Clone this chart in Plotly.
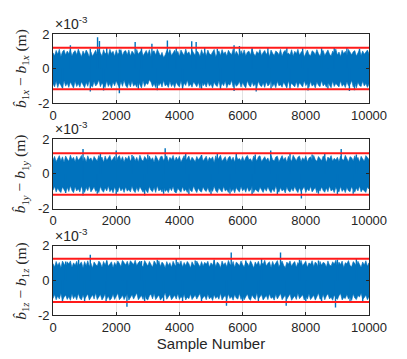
import plotly.graph_objects as go
from plotly.subplots import make_subplots

# envelope of the estimation error, one value every 50 samples (units of 1e-5 m)
sample_bins = list(range(0, 10001, 50))

x_hi = [92, 74, 105, 83, 112, 70, 98, 108, 78, 101, 86, 110, 72, 95, 104, 80, 113, 88, 69, 102,
        81, 107, 91, 66, 97, 71, 85, 106, 79, 111, 90, 73, 109, 84, 97, 76, 112, 87, 100, 71,
        106, 82, 93, 110, 75, 99, 104, 80, 108, 72, 101, 89, 77, 111, 83, 96, 107, 74, 92, 105,
        81, 109, 70, 98, 103, 78, 112, 86, 73, 94, 64, 79, 104, 87, 110, 75, 95, 106, 82, 100,
        71, 108, 90, 77, 113, 84, 97, 72, 105, 88, 76, 102, 93, 70, 109, 81, 99, 74, 107, 85,
        79, 96, 111, 68, 88, 103, 75, 110, 84, 97, 73, 106, 91, 80, 112, 77, 100, 86, 69, 104,
        82, 108, 74, 95, 101, 79, 113, 87, 72, 99, 85, 110, 76, 93, 105, 81, 98, 70, 107, 89,
        75, 102, 94, 80, 111, 71, 97, 106, 83, 90, 78, 109, 73, 100, 86, 112, 77, 95, 104, 68,
        91, 107, 82, 74, 103, 96, 79, 110, 87, 71, 99, 105, 76, 92, 108, 84, 72, 101, 89, 113,
        78, 96, 70, 106, 85, 100, 74, 111, 93, 80, 97, 104, 72, 88, 109, 76, 102, 83, 95, 107,
        86]
x_lo = [-88, -106, -74, -110, -82, -97, -112, -71, -102, -85, -109, -78, -99, -113, -73, -104, -87, -108, -76, -95,
        -111, -80, -103, -69, -98, -107, -75, -101, -90, -66, -105, -83, -96, -110, -72, -104, -86, -112, -79, -100,
        -70, -93, -109, -77, -103, -68, -98, -111, -81, -106, -74, -102, -89, -108, -76, -97, -112, -71, -104, -84,
        -92, -65, -78, -105, -87, -110, -73, -99, -82, -107, -69, -101, -91, -109, -75, -104, -86, -111, -79, -96,
        -106, -72, -110, -84, -98, -67, -103, -89, -108, -77, -94, -105, -80, -112, -73, -100, -87, -107, -76, -102,
        -90, -113, -79, -97, -104, -71, -109, -85, -100, -74, -111, -88, -96, -68, -106, -82, -103, -93, -75, -108,
        -81, -99, -112, -70, -95, -107, -78, -102, -86, -110, -73, -97, -105, -83, -109, -76, -101, -91, -69, -104,
        -87, -111, -74, -100, -93, -108, -79, -96, -113, -72, -103, -85, -98, -106, -77, -110, -82, -94, -107, -71,
        -99, -84, -109, -75, -102, -90, -112, -78, -97, -105, -70, -101, -88, -108, -80, -95, -111, -73, -104, -86,
        -96, -107, -72, -103, -89, -110, -77, -100, -93, -69, -106, -84, -112, -79, -98, -104, -74, -101, -87, -109,
        -90]

y_hi = [80, 102, 71, 94, 106, 76, 99, 68, 104, 87, 73, 108, 83, 97, 70, 103, 79, 91, 107, 74,
        96, 69, 105, 82, 93, 72, 101, 86, 77, 106, 84, 98, 67, 104, 79, 92, 107, 75, 89, 102,
        71, 95, 106, 78, 100, 69, 97, 83, 105, 74, 90, 103, 77, 96, 70, 108, 85, 73, 101, 88,
        76, 104, 81, 94, 68, 106, 87, 72, 99, 103, 78, 92, 105, 71, 96, 84, 107, 74, 98, 80,
        102, 69, 93, 106, 77, 89, 104, 73, 97, 85, 70, 101, 82, 95, 107, 75, 88, 103, 72, 96,
        84, 99, 66, 105, 79, 91, 108, 74, 87, 100, 71, 94, 103, 78, 97, 69, 106, 83, 90, 76,
        101, 73, 95, 107, 82, 88, 70, 104, 92, 77, 99, 105, 72, 86, 100, 79, 93, 68, 107, 84,
        75, 98, 103, 71, 90, 106, 80, 96, 69, 102, 85, 74, 108, 88, 77, 97, 104, 72, 94, 81,
        105, 70, 92, 99, 78, 107, 83, 73, 101, 89, 76, 104, 95, 68, 98, 86, 106, 74, 91, 80,
        97, 72, 103, 85, 79, 108, 90, 71, 100, 94, 77, 105, 82, 96, 69, 102, 88, 74, 106, 93,
        84]
y_lo = [-94, -72, -105, -81, -98, -108, -75, -91, -106, -78, -102, -69, -96, -109, -74, -99, -86, -105, -71, -93,
        -107, -79, -97, -68, -104, -88, -76, -101, -92, -108, -73, -95, -106, -80, -99, -70, -103, -87, -109, -77,
        -94, -105, -72, -98, -83, -107, -75, -100, -90, -104, -71, -96, -108, -79, -102, -74, -93, -106, -85, -98,
        -109, -73, -95, -103, -78, -107, -69, -99, -88, -105, -76, -101, -92, -108, -80, -97, -72, -104, -110, -83,
        -95, -106, -74, -100, -89, -107, -77, -96, -103, -70, -93, -108, -81, -99, -105, -75, -94, -102, -78, -106,
        -87, -101, -71, -97, -108, -82, -94, -105, -73, -99, -90, -107, -76, -102, -86, -109, -79, -95, -104, -72,
        -98, -84, -106, -75, -101, -93, -69, -108, -88, -97, -104, -77, -92, -107, -81, -100, -74, -96, -109, -85,
        -103, -71, -94, -106, -79, -99, -88, -110, -76, -97, -105, -83, -100, -73, -95, -108, -80, -102, -90, -74,
        -107, -86, -98, -72, -104, -93, -78, -109, -84, -100, -75, -96, -106, -81, -103, -70, -99, -89, -108, -77,
        -94, -105, -73, -101, -87, -108, -79, -97, -103, -74, -92, -106, -82, -99, -70, -104, -88, -96, -107, -76,
        -87]

z_hi = [98, 78, 110, 86, 104, 73, 112, 91, 80, 108, 95, 113, 76, 102, 88, 111, 79, 97, 106, 74,
        109, 85, 114, 81, 100, 72, 107, 93, 83, 112, 101, 77, 110, 89, 115, 82, 96, 108, 75, 104,
        87, 113, 99, 80, 116, 103, 90, 111, 84, 114, 105, 92, 117, 86, 102, 112, 88, 79, 115, 97,
        83, 110, 94, 77, 113, 100, 85, 114, 81, 106, 95, 74, 109, 87, 103, 76, 111, 92, 80, 107,
        89, 113, 78, 104, 86, 110, 97, 73, 108, 91, 82, 112, 99, 79, 109, 84, 105, 93, 111, 77,
        102, 88, 115, 81, 107, 96, 74, 112, 90, 103, 79, 116, 94, 85, 110, 76, 106, 98, 83, 113,
        92, 78, 109, 101, 84, 114, 96, 72, 107, 89, 111, 80, 104, 93, 117, 83, 99, 108, 75, 110,
        86, 103, 115, 79, 97, 112, 88, 74, 106, 94, 113, 82, 100, 109, 77, 104, 91, 116, 85, 98,
        111, 76, 102, 93, 114, 81, 107, 96, 73, 110, 88, 105, 99, 78, 113, 90, 84, 108, 95, 117,
        80, 106, 92, 112, 75, 103, 97, 115, 86, 79, 109, 100, 83, 111, 94, 77, 107, 89, 114, 82,
        102]
z_lo = [-105, -82, -112, -90, -107, -76, -114, -97, -84, -110, -93, -115, -79, -106, -88, -112, -75, -103, -113, -85,
        -109, -92, -78, -114, -101, -83, -108, -73, -111, -96, -81, -113, -99, -77, -109, -90, -115, -104, -80, -110,
        -94, -74, -112, -102, -86, -111, -91, -79, -114, -100, -83, -108, -95, -72, -112, -103, -87, -110, -78, -106,
        -113, -89, -80, -107, -75, -111, -98, -84, -114, -102, -92, -71, -109, -96, -81, -112, -101, -86, -108, -77,
        -110, -93, -105, -82, -113, -97, -106, -79, -111, -99, -85, -108, -94, -76, -110, -102, -88, -112, -80, -107,
        -95, -116, -83, -104, -91, -109, -74, -113, -98, -86, -111, -79, -105, -93, -114, -81, -102, -108, -76, -110,
        -89, -112, -97, -78, -106, -115, -84, -100, -110, -73, -108, -94, -82, -113, -99, -87, -111, -77, -104, -96,
        -114, -80, -107, -92, -75, -112, -101, -85, -109, -96, -78, -115, -103, -88, -110, -74, -106, -98, -83, -113,
        -91, -108, -79, -111, -100, -86, -114, -95, -73, -109, -104, -82, -112, -90, -77, -107, -97, -115, -84, -101,
        -110, -88, -76, -113, -99, -105, -81, -108, -93, -116, -79, -102, -111, -87, -96, -74, -109, -100, -85, -112,
        -95]

# isolated peaks sticking out of the band (sample, value in units of 1e-3 m)
x_spike_at = [550, 1180, 1410, 1470, 1700, 2100, 2600, 2800, 3130, 3620, 3900, 4390, 4530,
              4800, 5200, 5730, 5900, 6300, 6800, 7400, 7900, 8500, 8900, 9300, 9700,
              300, 1180, 1600, 2100, 2700, 3300, 4100, 4700, 5300, 5730, 6430, 6900,
              7500, 8070, 8700, 9380, 9540]
x_spike_val = [1.35, 1.15, 1.81, 1.60, 1.20, 1.10, 1.54, 1.20, 1.43, 1.62, 1.20, 1.58, 1.54,
               1.20, 1.15, 1.35, 1.30, 1.20, 1.25, 1.20, 1.18, 1.20, 1.25, 1.20, 1.15,
               -1.15, -1.33, -1.27, -1.43, -1.20, -1.25, -1.20, -1.22, -1.20, -1.30, -1.33, -1.20,
               -1.18, -1.27, -1.20, -1.30, -1.25]
y_spike_at = [950, 1500, 2000, 2500, 3000, 3550, 4200, 4700, 5200, 5800, 6400, 6890, 7500,
              8200, 8600, 9120, 9600,
              400, 950, 1400, 2000, 2900, 3500, 4300, 5000, 5600, 6300, 7100, 7860,
              8400, 9000, 9500]
y_spike_val = [1.44, 1.15, 1.35, 1.10, 1.12, 1.48, 1.15, 1.10, 1.20, 1.15, 1.12, 1.35, 1.15,
               1.12, 1.20, 1.44, 1.12,
               -1.10, -1.25, -1.15, -1.20, -1.25, -1.15, -1.20, -1.20, -1.15, -1.18, -1.20, -1.42,
               -1.15, -1.20, -1.15]
z_spike_at = [400, 810, 1180, 1700, 2200, 2800, 3300, 3900, 4500, 5100, 5640, 6100, 6600,
              7200, 7800, 8400, 9000, 9600,
              300, 1000, 1680, 2340, 2900, 3500, 4100, 4700, 5490, 6000, 6500, 7380,
              8000, 8500, 8940, 9400, 9800]
z_spike_val = [1.10, 1.20, 1.49, 1.15, 1.10, 1.12, 1.20, 1.25, 1.15, 1.20, 1.62, 1.15, 1.25,
               1.62, 1.20, 1.15, 1.20, 1.25,
               -1.20, -1.25, -1.30, -1.52, -1.20, -1.25, -1.20, -1.25, -1.47, -1.20, -1.30, -1.47,
               -1.20, -1.25, -1.56, -1.20, -1.30]

bounds = [1.2, 1.2, 1.25]
axis_names = ["x", "y", "z"]
x_ticks = [0, 2000, 4000, 6000, 8000, 10000]
y_ticks = [-2, 0, 2]

panels = [(x_hi, x_lo, x_spike_at, x_spike_val),
          (y_hi, y_lo, y_spike_at, y_spike_val),
          (z_hi, z_lo, z_spike_at, z_spike_val)]

blue = "#0072BD"
red = "#FF1A1A"
ink = "#262626"

fig = make_subplots(rows=3, cols=1)

for i, (hi, lo, sp_at, sp_val) in enumerate(panels):
    row = i + 1
    edge = [v / 100 for v in hi + lo[::-1]]
    fig.add_trace(go.Scatter(x=sample_bins + sample_bins[::-1], y=edge,
                             fill="toself", fillcolor=blue, mode="lines",
                             line=dict(color=blue, width=0.6), hoverinfo="skip"),
                  row=row, col=1)
    sx, sy = [], []
    for s, v in zip(sp_at, sp_val):
        sx += [s, s, None]
        sy += [0, v, None]
    fig.add_trace(go.Scatter(x=sx, y=sy, mode="lines",
                             line=dict(color=blue, width=1.4)), row=row, col=1)
    b = bounds[i]
    fig.add_trace(go.Scatter(x=[0, 10000, None, 0, 10000], y=[b, b, None, -b, -b],
                             mode="lines", line=dict(color=red, width=2)),
                  row=row, col=1)

domains = [[0.754, 1.0], [0.379, 0.625], [0.0, 0.246]]
axis_style = dict(showline=True, linecolor=ink, linewidth=0.8, mirror="ticks",
                  ticks="inside", ticklen=3, tickcolor=ink,
                  showgrid=True, gridcolor="#E3E3E3", gridwidth=0.8, zeroline=False,
                  tickfont=dict(family="Liberation Sans", size=13, color=ink))

for i in range(3):
    sfx = "" if i == 0 else str(i + 1)
    fig.layout["xaxis" + sfx].update(range=[0, 10000], tickvals=x_ticks,
                                     ticktext=[str(t) for t in x_ticks], **axis_style)
    fig.layout["yaxis" + sfx].update(range=[-2, 2], domain=domains[i], tickvals=y_ticks,
                                     ticktext=[str(t) for t in y_ticks], **axis_style)
    fig.add_annotation(xref="x" + sfx + " domain", yref="y" + sfx + " domain",
                       x=0.0, y=1.0, xanchor="left", yanchor="bottom", showarrow=False,
                       text="×10<sup>-3</sup>",
                       font=dict(family="Liberation Sans", size=14, color=ink))
    c = axis_names[i]
    fig.add_annotation(xref="paper", yref="y" + sfx + " domain", x=-0.1, y=0.5,
                       xanchor="center", yanchor="middle", textangle=-90, showarrow=False,
                       text="<i>b̂</i><sub>1<i>" + c + "</i></sub> − <i>b</i><sub>1<i>" + c
                            + "</i></sub> (m)",
                       font=dict(family="Liberation Serif", size=15.5, color=ink))

fig.layout.xaxis3.title = dict(text="Sample Number", standoff=2,
                               font=dict(family="Liberation Sans", size=15, color=ink))

# the page body adds an 8px margin, so the figure is drawn 8px smaller
fig.update_layout(width=399, height=351, showlegend=False,
                  paper_bgcolor="white", plot_bgcolor="white",
                  margin=dict(l=45, r=38, t=26, b=40))

fig.write_html("out.html")
